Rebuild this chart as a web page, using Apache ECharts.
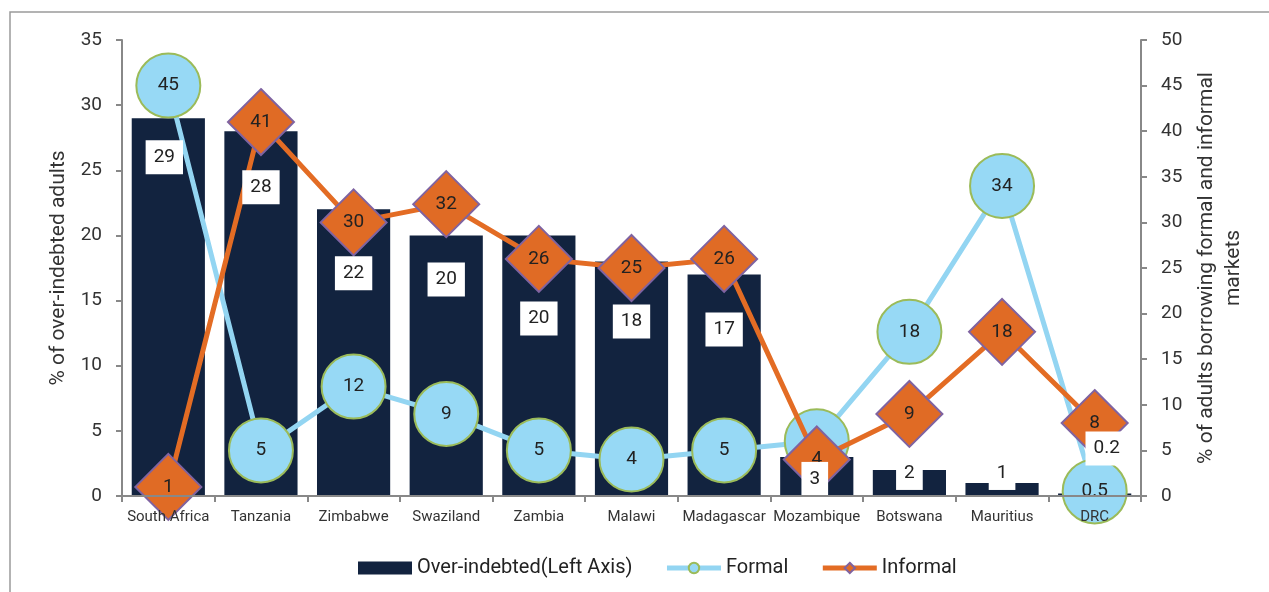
<!DOCTYPE html>
<html>
<head>
<meta charset="utf-8">
<script src="https://cdn.jsdelivr.net/npm/echarts@6/dist/echarts.min.js"></script>
<style>
html,body{margin:0;padding:0;background:#fff;}
#chart{width:1269px;height:592px;}
</style>
</head>
<body>
<div id="chart"></div>
<script>
const categories = ['South Africa','Tanzania','Zimbabwe','Swaziland','Zambia','Malawi','Madagascar','Mozambique','Botswana','Mauritius','DRC'];
const overIndebted = [29,28,22,20,20,18,17,3,2,1,0.2];
const formal = [45,5,12,9,5,4,5,6,18,34,0.5];
const informal = [1,41,30,32,26,25,26,4,9,18,8];
const leftTicks = {min:0,max:35,interval:5};
const rightTicks = {min:0,max:50,interval:5};
// label placement (pixel offsets of the value boxes relative to bar top, as in the original)
const barLabelOffsets = [[-4,39],[0,56],[0,64],[0,44],[0,83],[0,60],[0,55],[-2,22],[0,3],[0,-10],[12,-45]];

const FONT = "'Liberation Sans Narrow', 'Roboto', sans-serif";
const chart = echarts.init(document.getElementById('chart'));
chart.setOption({
  animation:false,
  backgroundColor:'#fff',
  textStyle:{fontFamily:FONT},
  graphic:[{type:'rect',shape:{x:10,y:12,width:1300,height:700},style:{fill:'none',stroke:'#9a9a9a',lineWidth:1.5},z:-1,silent:true}],
  grid:{left:122,right:128,top:40,bottom:96},
  legend:{
    left:353, top:553, itemWidth:54, itemHeight:13, itemGap:32,
    textStyle:{fontSize:20,color:'#222',fontFamily:FONT},
    data:[
      {name:'Over-indebted(Left Axis)',icon:'rect'},
      {name:'Formal',lineStyle:{width:5}},
      {name:'Informal',lineStyle:{width:5}}
    ]
  },
  xAxis:{
    type:'category', data:categories, z:20,
    axisLine:{lineStyle:{color:'#888',width:2}},
    axisTick:{show:true,length:6,lineStyle:{color:'#888',width:2}},
    axisLabel:{fontSize:15,color:'#333',margin:14,interval:0,fontFamily:FONT}
  },
  yAxis:[{
    type:'value', min:leftTicks.min, max:leftTicks.max, interval:leftTicks.interval,
    name:'% of over-indebted adults', nameLocation:'middle', nameGap:50,
    nameTextStyle:{fontSize:21,color:'#333',fontFamily:FONT},
    axisLine:{show:true,lineStyle:{color:'#888',width:2}},
    axisTick:{show:true,length:6,lineStyle:{color:'#888',width:2}},
    axisLabel:{fontSize:19,color:'#333',margin:20,fontFamily:FONT},
    splitLine:{show:false}
  },{
    type:'value', position:'right', min:rightTicks.min, max:rightTicks.max, interval:rightTicks.interval,
    name:'% of adults borrowing formal and informal\nmarkets', nameLocation:'middle', nameGap:52,
    nameTextStyle:{fontSize:21,color:'#333',lineHeight:27,fontFamily:FONT},
    axisLine:{show:true,lineStyle:{color:'#888',width:2}},
    axisTick:{show:true,length:6,lineStyle:{color:'#888',width:2}},
    axisLabel:{fontSize:19,color:'#333',margin:20,fontFamily:FONT},
    splitLine:{show:false}
  }],
  series:[{
    name:'Over-indebted(Left Axis)', type:'bar', yAxisIndex:0, data:overIndebted,
    barCategoryGap:'21%', itemStyle:{color:'#12233f'}, z:2
  },{
    name:'Formal', type:'line', yAxisIndex:1, data:formal, z:3,
    symbol:'circle', symbolSize:64,
    lineStyle:{color:'#93d5f2',width:5},
    itemStyle:{color:'#97d9f5',borderColor:'#9bbb59',borderWidth:2},
    label:{show:true,position:'inside',fontSize:19,color:'#222',fontFamily:FONT}
  },{
    name:'Informal', type:'line', yAxisIndex:1, data:informal, z:4,
    symbol:'diamond', symbolSize:66,
    lineStyle:{color:'#e36c24',width:5},
    itemStyle:{color:'#e06b25',borderColor:'#7f63a1',borderWidth:2},
    label:{show:true,position:'inside',fontSize:19,color:'#222',fontFamily:FONT}
  },{
    name:'barLabels', type:'bar', yAxisIndex:0, barGap:'-100%', z:10, silent:true,
    data: overIndebted.map((v,i)=>({value:v,label:{offset:barLabelOffsets[i]}})),
    itemStyle:{color:'rgba(0,0,0,0)'},
    label:{show:true,position:['50%',0],align:'center',verticalAlign:'middle',
      backgroundColor:'#fff',padding:[8,8,7,8],fontSize:19,color:'#222',fontFamily:FONT}
  }]
});
</script>
</body>
</html>
